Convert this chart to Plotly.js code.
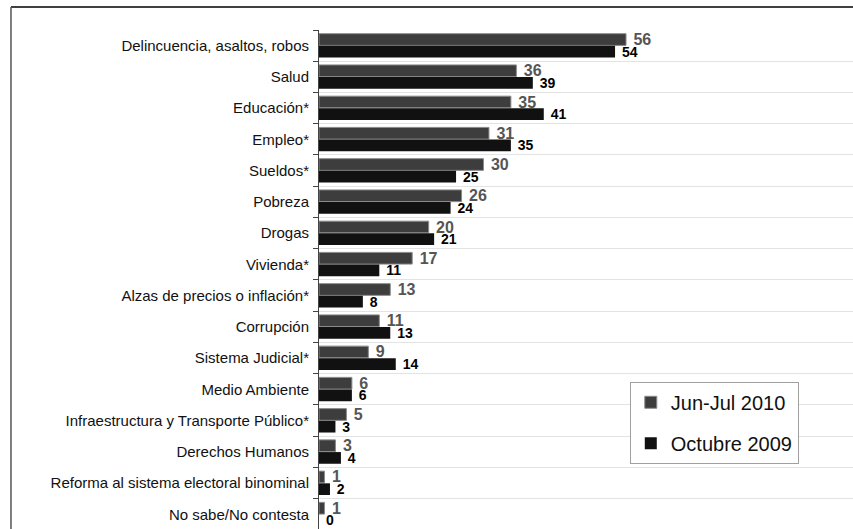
<!DOCTYPE html>
<html>
<head>
<meta charset="utf-8">
<script src="https://cdn.plot.ly/plotly-3.0.1.min.js"></script>
<style>html,body{margin:0;padding:0;background:#fff;overflow:hidden}#chart{width:853px;height:529px}</style>
</head>
<body>
<div id="chart"></div>
<script>
const categories = [
  "Delincuencia, asaltos, robos",
  "Salud",
  "Educación*",
  "Empleo*",
  "Sueldos*",
  "Pobreza",
  "Drogas",
  "Vivienda*",
  "Alzas de precios o inflación*",
  "Corrupción",
  "Sistema Judicial*",
  "Medio Ambiente",
  "Infraestructura y Transporte Público*",
  "Derechos Humanos",
  "Reforma al sistema electoral binominal",
  "No sabe/No contesta"
];
const seriesNames = ["Jun-Jul 2010", "Octubre 2009"];
const junJul2010 = [56, 36, 35, 31, 30, 26, 20, 17, 13, 11, 9, 6, 5, 3, 1, 1];
const octubre2009 = [54, 39, 41, 35, 25, 24, 21, 11, 8, 13, 14, 6, 3, 4, 2, 0];

const font = "Arial, 'Liberation Sans', sans-serif";

const traces = [
  {
    type: "bar", orientation: "h", name: seriesNames[0], legendgroup: "a",
    y: categories, x: junJul2010,
    text: junJul2010.map(v => "\u00a0" + v), textposition: "outside", cliponaxis: false,
    constraintext: "none",
    textfont: {family: font, size: 16, color: "#555555", weight: "bold"},
    marker: {color: "#3d3d3d", line: {color: "#8a8a8a", width: 1}},
    hoverinfo: "none"
  },
  {
    type: "bar", orientation: "h", name: seriesNames[1], legendgroup: "b",
    y: categories, x: octubre2009,
    text: octubre2009.map(v => "\u00a0" + v), textposition: "outside", cliponaxis: false,
    constraintext: "none",
    textfont: {family: font, size: 14, color: "#000000", weight: "bold"},
    marker: {color: "#111111", line: {width: 0}},
    hoverinfo: "none"
  }
];

const layout = {
  width: 853, height: 529,
  margin: {l: 319, r: 0, t: 30, b: 0},
  paper_bgcolor: "#ffffff", plot_bgcolor: "#ffffff",
  barmode: "group", bargap: 0.22, bargroupgap: 0.04,
  font: {family: font, size: 15, color: "#111111"},
  showlegend: true,
  legend: {
    x: 0.582, y: 0.295, xanchor: "left", yanchor: "top",
    bgcolor: "#ffffff", bordercolor: "#a0a0a0", borderwidth: 1,
    font: {family: font, size: 20, color: "#111111"},
    traceorder: "grouped", tracegroupgap: 12
  },
  xaxis: {
    range: [0, 97.4], showticklabels: false, ticks: "", showgrid: false,
    zeroline: false, showline: false, fixedrange: true
  },
  yaxis: {
    type: "category", autorange: false, range: [15.47, -0.5],
    tickson: "boundaries", ticks: "outside", ticklen: 5, tickcolor: "#444",
    ticklabelstandoff: 6,
    showgrid: true, gridcolor: "#e3e3e3", gridwidth: 1,
    showline: true, linecolor: "#444444", linewidth: 1,
    tickfont: {family: font, size: 15, color: "#111111"},
    fixedrange: true
  },
  shapes: [
    {type: "line", xref: "paper", yref: "paper", x0: -0.5768, x1: 1.01, y0: 1.046, y1: 1.046,
     line: {color: "#000000", width: 1.5}},
    {type: "line", xref: "paper", yref: "paper", x0: -0.5768, x1: -0.5768, y0: 1.046, y1: -0.05,
     line: {color: "#555555", width: 1.5}}
  ]
};

Plotly.newPlot("chart", traces, layout, {displayModeBar: false, staticPlot: true});
</script>
</body>
</html>
